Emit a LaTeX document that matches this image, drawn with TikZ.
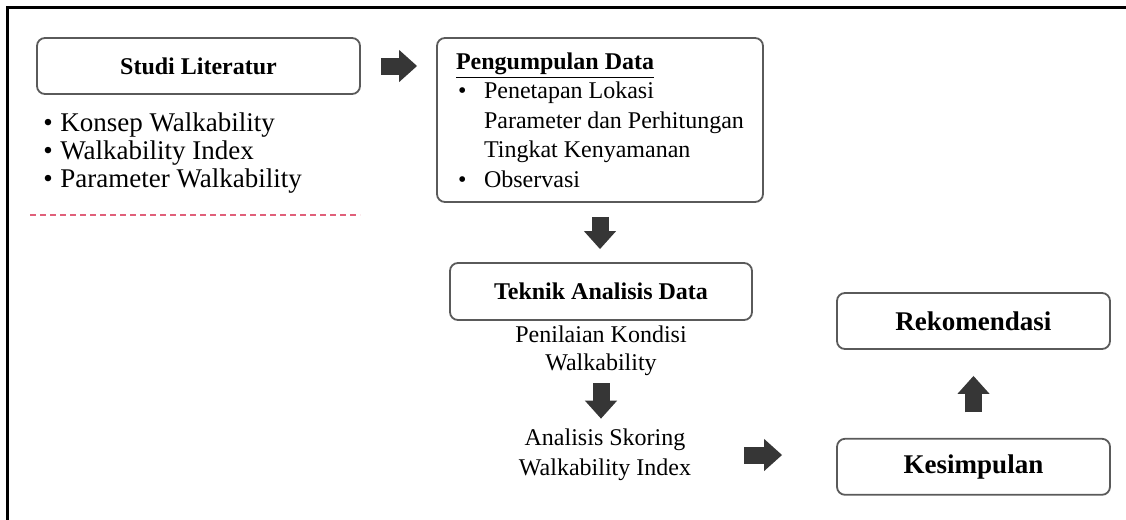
\documentclass[tikz,border=0pt]{standalone}
\usepackage{fontspec}
\setmainfont{Liberation Serif}
\usetikzlibrary{arrows.meta,positioning}
\definecolor{boxline}{HTML}{5A5A5A}
\definecolor{arrowfill}{HTML}{363636}
\definecolor{dashred}{HTML}{E0607A}

\begin{document}
\begin{tikzpicture}[x=0.5pt,y=-0.5pt,
  box/.style={draw=boxline,rounded corners=4pt,line width=0.9pt,align=center,
    inner sep=0pt,font=\bfseries\fontsize{12}{14}\selectfont},
  txt/.style={inner sep=0pt,align=center,font=\fontsize{12}{14}\selectfont},
  blockarr/.style={draw=arrowfill,line width=8.5pt,-{Triangle[length=9pt,width=15.5pt]}},
  node distance=0.45cm]
\useasboundingbox (0,0) rectangle (1126,520);
\draw[line width=1.5pt] (7,520) -- (7,7) -- (1126,7);
\node[box,minimum width=161.5pt,minimum height=28pt] (studi) at (198.5,66) {Studi Literatur};
\node[inner sep=0pt,anchor=west,align=left,font=\fontsize{13.5}{14}\selectfont] (konsep) at (43,153)
  {\makebox[8.5pt][l]{\textbullet}Konsep Walkability\\
   \makebox[8.5pt][l]{\textbullet}Walkability Index\\
   \makebox[8.5pt][l]{\textbullet}Parameter Walkability};
\draw[dashred,line width=0.75pt,dash pattern=on 3pt off 2pt] (30,215) -- (360,215);
\node[box,font=\fontsize{12}{14.7}\selectfont,align=left,minimum width=163pt,minimum height=82pt] (kumpul) at (600,120)
  {\textbf{\underline{Pengumpulan Data}}\\
   \hspace*{1pt}\makebox[13pt][l]{\textbullet}Penetapan Lokasi\\
   \hspace*{14pt}Parameter dan Perhitungan\\
   \hspace*{14pt}Tingkat Kenyamanan\\
   \hspace*{1pt}\makebox[13pt][l]{\textbullet}Observasi};
\node[box,minimum width=151pt,minimum height=28.5pt] (teknik) at (601,291.5) {Teknik Analisis Data};
\node[txt] (nilai) at (601,351) {Penilaian Kondisi\\Walkability};
\node[txt,font=\fontsize{12}{15}\selectfont] (skor) at (605,455) {Analisis Skoring\\Walkability Index};
\node[box,font=\bfseries\fontsize{13.5}{16}\selectfont,minimum width=136.5pt,minimum height=28pt] (rekom) at (973.5,321) {Rekomendasi};
\node[box,font=\bfseries\fontsize{13.5}{16}\selectfont,minimum width=136.5pt,minimum height=28pt,below=44pt of rekom] (kesim) {Kesimpulan};
% block arrows
\draw[blockarr,shorten <=10pt,shorten >=9.5pt] (studi.east) -- (studi.east -| kumpul.west);
\draw[blockarr,shorten <=7pt,shorten >=6.5pt] (kumpul.south) -- (kumpul.south |- teknik.north);
\draw[blockarr,shorten <=3.5pt,shorten >=5pt] (nilai.south) -- (nilai.south |- skor.north);
\draw[blockarr,shorten <=26.5pt,shorten >=27pt] (skor.east) -- (skor.east -| kesim.west);
\draw[blockarr,shorten <=12.75pt,shorten >=13pt] (kesim.north) -- (rekom.south);
\end{tikzpicture}
\end{document}
